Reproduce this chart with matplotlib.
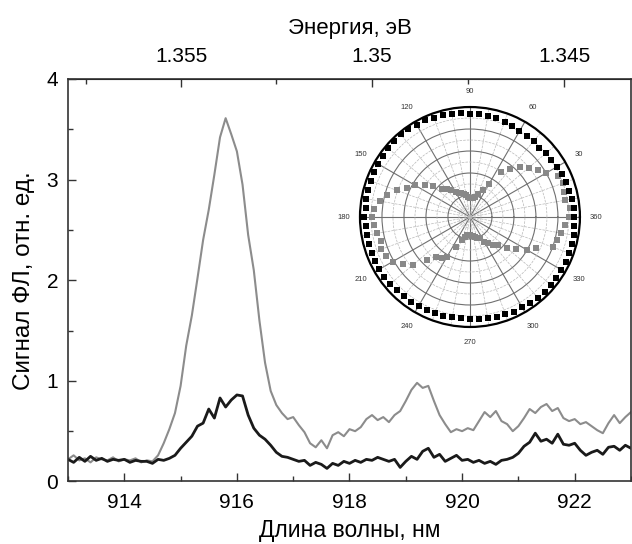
import numpy as np
import matplotlib
matplotlib.use("Agg")
import matplotlib.pyplot as plt

plt.rcParams['font.family'] = ['Liberation Sans', 'DejaVu Sans']

# spectra, sampled every 0.1 nm from 913 to 923 nm
wavelength = np.linspace(913.0, 923.0, 101)

signal_black = [
    0.22, 0.19, 0.24, 0.20, 0.25, 0.21, 0.23, 0.20, 0.22, 0.21,
    0.22, 0.19, 0.21, 0.20, 0.20, 0.18, 0.22, 0.21, 0.23, 0.26,
    0.33, 0.39, 0.45, 0.55, 0.58, 0.72, 0.63, 0.83, 0.74, 0.81,
    0.86, 0.85, 0.66, 0.53, 0.46, 0.42, 0.36, 0.29, 0.25, 0.24,
    0.22, 0.20, 0.21, 0.16, 0.19, 0.17, 0.13, 0.18, 0.16, 0.20,
    0.18, 0.21, 0.19, 0.22, 0.21, 0.24, 0.22, 0.20, 0.22, 0.14,
    0.20, 0.25, 0.22, 0.30, 0.33, 0.24, 0.27, 0.20, 0.23, 0.26,
    0.21, 0.22, 0.19, 0.21, 0.18, 0.20, 0.17, 0.21, 0.22, 0.24,
    0.28, 0.35, 0.39, 0.48, 0.40, 0.42, 0.38, 0.47, 0.37, 0.36,
    0.38, 0.31, 0.26, 0.29, 0.31, 0.27, 0.34, 0.35, 0.31, 0.36,
    0.33,
]

signal_gray = [
    0.22, 0.26, 0.21, 0.23, 0.19, 0.24, 0.22, 0.21, 0.24, 0.20,
    0.22, 0.21, 0.23, 0.19, 0.21, 0.20, 0.26, 0.38, 0.52, 0.68,
    0.95, 1.35, 1.65, 2.02, 2.40, 2.70, 3.05, 3.42, 3.61, 3.45,
    3.28, 2.95, 2.45, 2.10, 1.60, 1.18, 0.90, 0.76, 0.68, 0.62,
    0.64, 0.56, 0.49, 0.38, 0.34, 0.41, 0.33, 0.46, 0.49, 0.45,
    0.52, 0.50, 0.54, 0.62, 0.66, 0.61, 0.64, 0.59, 0.66, 0.70,
    0.80, 0.91, 0.98, 0.93, 0.95, 0.80, 0.66, 0.57, 0.49, 0.52,
    0.50, 0.53, 0.51, 0.60, 0.69, 0.64, 0.70, 0.60, 0.57, 0.50,
    0.55, 0.63, 0.72, 0.68, 0.74, 0.77, 0.70, 0.73, 0.63, 0.60,
    0.62, 0.57, 0.59, 0.55, 0.51, 0.48, 0.58, 0.66, 0.58, 0.64,
    0.69,
]

# polar inset, every 5 degrees from 0 to 355
angle_deg = np.arange(0, 360, 5)

polar_black = [
    0.95, 0.95, 0.94, 0.93, 0.93, 0.92, 0.91, 0.90, 0.90, 0.89,
    0.90, 0.90, 0.90, 0.91, 0.92, 0.93, 0.93, 0.94, 0.94, 0.95,
    0.95, 0.96, 0.96, 0.97, 0.97, 0.98, 0.98, 0.98, 0.97, 0.97,
    0.97, 0.96, 0.96, 0.96, 0.96, 0.95, 0.96, 0.95, 0.95, 0.95,
    0.95, 0.95, 0.95, 0.95, 0.95, 0.94, 0.94, 0.94, 0.93, 0.93,
    0.93, 0.93, 0.92, 0.92, 0.93, 0.93, 0.93, 0.94, 0.94, 0.95,
    0.95, 0.95, 0.96, 0.96, 0.96, 0.96, 0.96, 0.96, 0.96, 0.96,
    0.96, 0.95,
]

polar_gray = [
    0.90, 0.91, 0.88, 0.89, 0.90, 0.88, 0.80, 0.75, 0.70, 0.64,
    0.57, 0.50, 0.35, 0.27, 0.22, 0.19, 0.18, 0.17, 0.17, 0.18,
    0.20, 0.22, 0.23, 0.24, 0.26, 0.30, 0.33, 0.36, 0.44, 0.50,
    0.58, 0.63, 0.71, 0.78, 0.83, 0.88, 0.89, 0.88, 0.86, 0.84,
    0.86, 0.84, 0.81, 0.74, 0.68, 0.55, 0.48, 0.45, 0.42, 0.30,
    0.22, 0.19, 0.17, 0.16, 0.16, 0.17, 0.18, 0.19, 0.20, 0.21,
    0.26, 0.29, 0.33, 0.36, 0.44, 0.51, 0.60, 0.66, 0.80, 0.82,
    0.84, 0.87,
]

angle_labels = ['360', '30', '60', '90', '120', '150',
                '180', '210', '240', '270', '300', '330']

fig = plt.figure(figsize=(6.32, 5.44), dpi=100)
ax = fig.add_axes([0.1076, 0.1149, 0.8908, 0.740])

ax.plot(wavelength, signal_gray, color='#8c8c8c', lw=1.5)
ax.plot(wavelength, signal_black, color='#1a1a1a', lw=2.0)

ax.set_xlim(913, 923)
ax.set_ylim(0, 4)
ax.set_xticks([914, 916, 918, 920, 922])
ax.set_xticks(np.arange(913, 924, 1), minor=True)
ax.set_yticks([0, 1, 2, 3, 4])
ax.set_yticks(np.arange(0, 4.01, 0.5), minor=True)
ax.tick_params(which='both', direction='in', top=False, right=False,
               labelsize=15, color='#333333')
ax.tick_params(which='major', length=6, width=1)
ax.tick_params(which='minor', length=3.5, width=1)
ax.tick_params(axis='x', pad=8)
ax.tick_params(axis='y', pad=7)
for s in ax.spines.values():
    s.set_linewidth(1.2)
    s.set_color('#333333')

ax.set_xlabel('Длина волны, нм', fontsize=16.5, labelpad=5)
ax.set_ylabel('Сигнал ФЛ, отн. ед.', fontsize=17.5, labelpad=8)

hc = 1239.84
top = ax.secondary_xaxis('top', functions=(lambda x: hc / x, lambda e: hc / e))
top.set_xticks([1.355, 1.35, 1.345])
top.set_xticklabels(['1.355', '1.35', '1.345'])
top.set_xticks([1.3575, 1.3525, 1.3475], minor=True)
top.tick_params(which='both', direction='in', labelsize=15, pad=9, color='#333333')
top.tick_params(which='major', length=6, width=1)
top.tick_params(which='minor', length=3.5, width=1)
top.set_xlabel('Энергия, эВ', fontsize=16, labelpad=10)

# polar inset
pax = fig.add_axes([0.5696, 0.3989, 0.348, 0.4044], projection='polar')
theta = np.deg2rad(angle_deg)
pax.plot(theta, polar_gray, 's', color='#888888', ms=3.8, mew=0)
pax.plot(theta, polar_black, 's', color='black', ms=4.3, mew=0)
pax.set_ylim(0, 1)
pax.set_yticks([0.2, 0.4, 0.6, 0.8])
pax.set_yticks([0.1, 0.3, 0.5, 0.7, 0.9], minor=True)
pax.set_yticklabels([])
pax.set_thetagrids(np.arange(0, 360, 30), labels=angle_labels, fontsize=5.5)
pax.set_xticks(np.deg2rad(np.arange(0, 360, 10)), minor=True)
pax.tick_params(axis='x', pad=1, colors='#333333')
pax.grid(True, which='major', color='#707070', lw=0.8, ls='-')
pax.grid(True, which='minor', color='#b8b8b8', lw=0.5, ls='--')
pax.spines['polar'].set_linewidth(1.6)
pax.spines['polar'].set_color('black')

fig.savefig('out.png', dpi=100)
